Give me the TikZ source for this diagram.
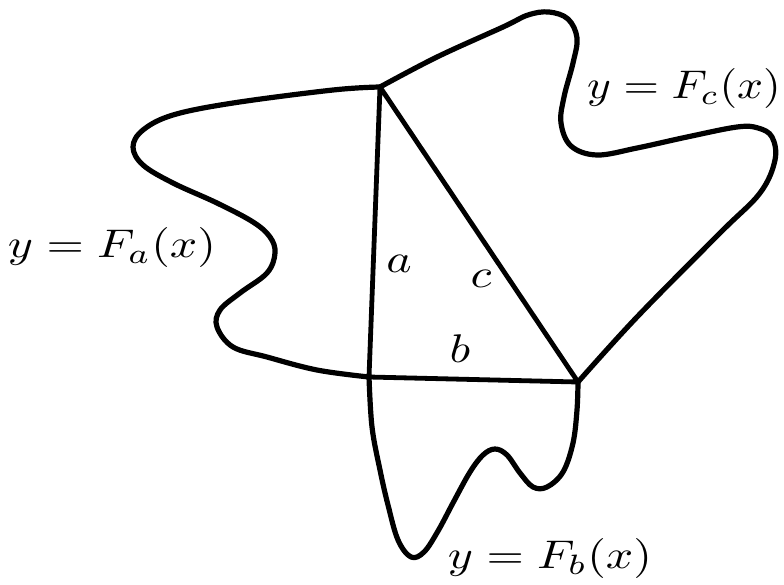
\documentclass[tikz,border=0pt]{standalone}
\usepackage{graphicx}
\newcommand{\bigtxt}[1]{\scalebox{4.8}[4.0]{#1}}
\begin{document}
\begin{tikzpicture}[x=1pt,y=-1pt,
  curve/.style={line width=5.2pt, line join=round, line cap=round},
  side/.style={line width=4.8pt, line join=round, line cap=round},
  lbl/.style={inner sep=0pt, anchor=base}]
\useasboundingbox (0,0) rectangle (784,584);
\coordinate (A) at (380,87);
\coordinate (B) at (369,377);
\coordinate (C) at (578,382);
% left boundary y = F_a(x)
\draw[curve] plot[smooth, tension=0.6] coordinates {(A) (333,90) (233,103) (173,115) (143,130) (133,147) (143,165) (173,183) (217,203) (253,222) (270,237) (275,253) (267,273) (240,293) (220,310) (217,327) (233,347) (267,357) (317,370) (B)};
% bottom boundary y = F_b(x)
\draw[curve] plot[smooth, tension=0.6] coordinates {(B) (372,427) (380,470) (388,505) (398,540) (411,557) (424,552) (438,531) (454,501) (470,472) (483,455) (495,449) (507,455) (520,473) (533,487) (547,487) (563,472) (573,443) (577,410) (C)};
% right boundary y = F_c(x)
\draw[curve] plot[smooth, tension=0.6] coordinates {(C) (637,317) (720,233) (760,193) (775,160) (772,137) (758,128) (737,127) (687,137) (637,148) (597,155) (571,146) (561,123) (564,97) (573,63) (577,38) (568,19) (549,12) (528,15) (503,27) (437,57) (A)};
% triangle
\draw[side] (A) -- (B) -- (C) -- cycle;
% labels
\node[lbl] (la) at (399,272) {\bigtxt{$a$}};
\node[lbl] (lb) at (460,362) {\bigtxt{$b$}};
\node[lbl] (lc) at (481,287) {\bigtxt{$c$}};
\node[lbl] (Fa) at (112,257) {\bigtxt{$y = F_a(x)$}};
\node[lbl] (Fc) at (684,98) {\scalebox{4.55}[4.0]{$y = F_c(x)$}};
\node[lbl] (Fb) at (550,568) {\bigtxt{$y = F_b(x)$}};
\end{tikzpicture}
\end{document}
